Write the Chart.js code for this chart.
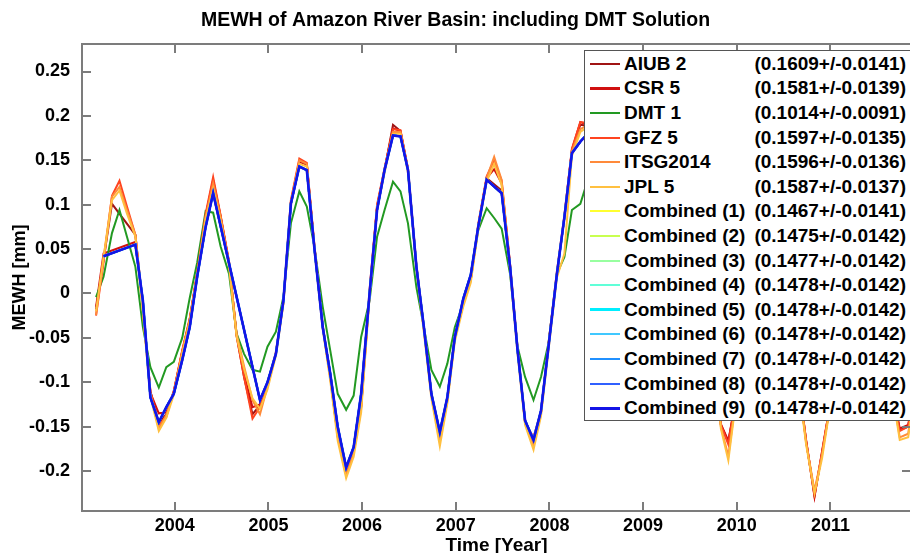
<!DOCTYPE html>
<html>
<head>
<meta charset="utf-8">
<title>MEWH of Amazon River Basin</title>
<script src="https://cdn.jsdelivr.net/npm/chart.js@4.4.1/dist/chart.umd.min.js"></script>
<style>
    html, body {
        margin: 0;
        padding: 0;
        background: #fff;
        width: 910px;
        height: 553px;
        overflow: hidden;
    }
    #wrap {
        position: relative;
        width: 912px;
        height: 562px;
    }
    #legend {
        position: absolute;
        left: 584px;
        top: 50px;
        width: 328px;
        height: 371px;
        box-sizing: border-box;
        border: 1.5px solid #555;
        background: #fff;
        padding-top: 0.5px;
        font-family: Arial, "Liberation Sans", Helvetica, sans-serif;
        font-weight: bold;
        font-size: 19px;
        color: #000;
    }
    .legend-row {
        display: flex;
        align-items: center;
        height: 24.6px;
        white-space: nowrap;
    }
    .legend-line {
        display: inline-block;
        width: 30px;
        margin-left: 5px;
        margin-right: 4px;
    }
    .legend-stat {
        margin-left: auto;
        padding-right: 5px;
    }
</style>
</head>
<body>
<div id="wrap">
    <canvas id="chart" width="912" height="562"></canvas>
    <div id="legend"></div>
</div>
<script>
// monthly epochs, decimal years
const months = [
    2003.16, 2003.24, 2003.33, 2003.41, 2003.49, 2003.58, 2003.66, 2003.74, 2003.83, 2003.91, 2003.99, 2004.08,
    2004.16, 2004.24, 2004.33, 2004.41, 2004.49, 2004.58, 2004.66, 2004.74, 2004.83, 2004.91, 2004.99, 2005.08,
    2005.16, 2005.24, 2005.33, 2005.41, 2005.49, 2005.58, 2005.66, 2005.74, 2005.83, 2005.91, 2005.99, 2006.08,
    2006.16, 2006.24, 2006.33, 2006.41, 2006.49, 2006.58, 2006.66, 2006.74, 2006.83, 2006.91, 2006.99, 2007.08,
    2007.16, 2007.24, 2007.33, 2007.41, 2007.49, 2007.58, 2007.66, 2007.74, 2007.83, 2007.91, 2007.99, 2008.08,
    2008.16, 2008.24, 2008.33, 2008.41, 2008.49, 2008.58, 2008.66, 2008.74, 2008.83, 2008.91, 2008.99, 2009.08,
    2009.16, 2009.24, 2009.33, 2009.41, 2009.49, 2009.58, 2009.66, 2009.74, 2009.83, 2009.91, 2009.99, 2010.08,
    2010.16, 2010.24, 2010.33, 2010.41, 2010.49, 2010.58, 2010.66, 2010.74, 2010.83, 2010.91, 2010.99, 2011.08,
    2011.16, 2011.24, 2011.33, 2011.41, 2011.49, 2011.58, 2011.66, 2011.74, 2011.83, 2011.91,
];

const aiub = [
    -0.018, 0.038, 0.101, null, null, 0.066, -0.014, -0.110, -0.146, -0.136, -0.111, -0.066,
    -0.029, 0.022, 0.087, 0.126, 0.086, 0.034, -0.047, -0.094, -0.136, -0.126, -0.104, -0.067,
    -0.010, 0.102, 0.148, 0.146, 0.053, -0.038, -0.094, -0.161, -0.201, -0.178, -0.128, 0.000,
    0.097, 0.139, 0.190, 0.183, 0.139, 0.030, -0.040, -0.114, -0.163, -0.120, -0.050, -0.012,
    0.015, 0.076, 0.130, null, 0.116, 0.031, -0.064, -0.144, -0.166, -0.134, -0.059, 0.022,
    0.086, 0.161, 0.190, 0.189, 0.149, 0.070, -0.020, -0.090, -0.120, -0.125, -0.100, -0.060,
    0.000, 0.080, 0.150, 0.190, 0.200, 0.160, 0.080, -0.030, -0.148, -0.167, -0.120, -0.060,
    0.000, 0.070, 0.140, 0.180, 0.170, 0.100, -0.100, -0.166, -0.228, -0.180, -0.130, -0.060,
    0.020, 0.100, 0.160, 0.170, 0.120, 0.030, -0.110, -0.154, -0.150, -0.100,
];

const csr = [
    -0.015, 0.045, null, null, null, 0.058, -0.012, -0.112, -0.135, -0.134, -0.110, -0.065,
    -0.030, 0.023, 0.088, 0.128, 0.087, 0.035, -0.046, -0.090, -0.128, -0.125, -0.103, -0.067,
    -0.009, 0.103, 0.149, 0.145, 0.054, -0.037, -0.093, -0.160, -0.200, -0.177, -0.127, 0.002,
    0.098, 0.140, 0.186, 0.183, 0.140, 0.031, -0.039, -0.113, -0.162, -0.119, -0.049, -0.011,
    0.016, 0.076, 0.130, 0.140, 0.124, 0.032, -0.063, -0.146, -0.162, -0.133, -0.058, 0.023,
    0.087, 0.162, 0.193, 0.190, 0.150, 0.071, -0.019, -0.089, -0.119, -0.124, -0.099, -0.059,
    0.001, 0.081, 0.151, 0.191, 0.201, 0.161, 0.081, -0.029, -0.147, -0.166, -0.119, -0.059,
    0.001, 0.071, 0.141, 0.181, 0.171, 0.101, -0.099, -0.165, -0.229, -0.178, -0.129, -0.059,
    0.021, 0.101, 0.161, 0.171, 0.121, 0.031, -0.109, -0.152, -0.148, -0.099,
];

const dmt = [
    -0.004, 0.019, 0.068, 0.094, 0.064, 0.030, -0.038, -0.083, -0.106, -0.083, -0.077, -0.050,
    -0.005, 0.035, 0.093, 0.091, 0.053, 0.022, -0.045, -0.068, -0.086, -0.088, -0.060, -0.043,
    -0.004, 0.079, 0.115, 0.098, 0.053, -0.015, -0.064, -0.113, -0.131, -0.115, -0.049, -0.008,
    0.064, 0.094, 0.126, 0.115, 0.079, 0.007, -0.038, -0.086, -0.105, -0.079, -0.038, -0.011,
    0.019, 0.071, 0.096, 0.085, 0.073, 0.022, -0.060, -0.094, -0.120, -0.094, -0.056, 0.022,
    0.041, 0.094, 0.101, 0.128, 0.110, 0.060,
];

const gfz = [
    -0.025, 0.035, 0.110, 0.127, 0.098, 0.066, -0.016, -0.110, -0.148, -0.139, -0.110, -0.064,
    -0.028, 0.024, 0.090, 0.131, 0.088, 0.036, -0.048, -0.094, -0.141, -0.128, -0.103, -0.066,
    -0.008, 0.105, 0.152, 0.147, 0.056, -0.036, -0.092, -0.160, -0.202, -0.178, -0.126, 0.004,
    0.100, 0.141, 0.185, 0.184, 0.141, 0.032, -0.038, -0.112, -0.163, -0.118, -0.048, -0.010,
    0.017, 0.078, 0.132, 0.150, 0.127, 0.033, -0.062, -0.142, -0.168, -0.132, -0.057, 0.025,
    0.088, 0.163, 0.193, 0.192, 0.152, 0.072, -0.018, -0.088, -0.118, -0.123, -0.098, -0.058,
    0.002, 0.082, 0.152, 0.192, 0.202, 0.162, 0.082, -0.028, -0.148, -0.170, -0.118, -0.058,
    0.002, 0.072, 0.142, 0.182, 0.172, 0.102, -0.098, -0.166, -0.226, -0.180, -0.128, -0.058,
    0.022, 0.102, 0.162, 0.172, 0.122, 0.032, -0.108, -0.155, -0.150, -0.098,
];

const itsg = [
    -0.024, 0.040, 0.109, 0.120, 0.094, 0.066, -0.019, -0.113, -0.152, -0.137, -0.112, -0.066,
    -0.030, 0.022, 0.086, 0.124, 0.086, 0.034, -0.045, -0.082, -0.120, -0.136, -0.105, -0.068,
    -0.010, 0.103, 0.150, 0.146, 0.053, -0.038, -0.094, -0.162, -0.205, -0.180, -0.130, 0.000,
    0.098, 0.139, 0.182, 0.182, 0.139, 0.030, -0.040, -0.115, -0.167, -0.120, -0.050, -0.012,
    0.015, 0.075, 0.130, 0.154, 0.128, 0.030, -0.065, -0.145, -0.172, -0.135, -0.060, 0.022,
    0.085, 0.160, 0.185, 0.190, 0.150, 0.070, -0.020, -0.090, -0.120, -0.125, -0.100, -0.060,
    0.000, 0.080, 0.150, 0.190, 0.200, 0.160, 0.080, -0.030, -0.150, -0.183, -0.120, -0.060,
    0.000, 0.070, 0.140, 0.180, 0.170, 0.100, -0.100, -0.168, -0.222, -0.182, -0.130, -0.060,
    0.020, 0.100, 0.160, 0.170, 0.120, 0.030, -0.110, -0.162, -0.158, -0.100,
];

const jpl = [
    -0.020, 0.040, 0.105, 0.116, 0.090, 0.064, -0.022, -0.116, -0.155, -0.140, -0.114, -0.068,
    -0.032, 0.020, 0.084, 0.118, 0.082, 0.030, -0.048, -0.085, -0.118, -0.130, -0.108, -0.070,
    -0.012, 0.100, 0.146, 0.143, 0.050, -0.040, -0.098, -0.166, -0.208, -0.184, -0.134, -0.004,
    0.095, 0.136, 0.180, 0.180, 0.136, 0.027, -0.044, -0.118, -0.172, -0.124, -0.054, -0.015,
    0.012, 0.072, 0.126, 0.146, 0.122, 0.026, -0.068, -0.148, -0.176, -0.138, -0.064, 0.018,
    0.045, 0.155, 0.182, 0.188, 0.148, 0.068, -0.022, -0.092, -0.122, -0.127, -0.102, -0.062,
    -0.002, 0.078, 0.148, 0.188, 0.198, 0.158, 0.078, -0.032, -0.152, -0.188, -0.122, -0.062,
    -0.002, 0.068, 0.138, 0.178, 0.168, 0.098, -0.102, -0.170, -0.225, -0.186, -0.132, -0.062,
    0.018, 0.098, 0.158, 0.168, 0.118, 0.028, -0.112, -0.165, -0.162, -0.102,
];

// the nine combined solutions overlap to within a line width
const combined = [
    null, 0.042, null, null, null, 0.055, -0.008, -0.117, -0.145, -0.128, -0.113, -0.075,
    -0.038, 0.019, 0.075, 0.113, null, null, null, null, null, -0.120, -0.100, -0.068,
    -0.008, 0.101, 0.143, 0.139, 0.052, -0.038, -0.090, -0.150, -0.196, -0.173, -0.113, 0.000,
    0.094, 0.139, 0.178, 0.177, 0.139, 0.030, -0.038, -0.113, -0.156, -0.117, -0.049, -0.006,
    0.021, 0.075, 0.128, null, 0.113, 0.030, -0.064, -0.143, -0.165, -0.132, -0.060, 0.022,
    0.086, 0.158, 0.171, 0.180, 0.150, 0.080,
];

const seriesNames = [
    'AIUB 2', 'CSR 5', 'DMT 1', 'GFZ 5', 'ITSG2014', 'JPL 5',
    'Combined (1)', 'Combined (2)', 'Combined (3)', 'Combined (4)', 'Combined (5)',
    'Combined (6)', 'Combined (7)', 'Combined (8)', 'Combined (9)',
];
const seriesStats = [
    '(0.1609+/-0.0141)', '(0.1581+/-0.0139)', '(0.1014+/-0.0091)', '(0.1597+/-0.0135)',
    '(0.1596+/-0.0136)', '(0.1587+/-0.0137)', '(0.1467+/-0.0141)', '(0.1475+/-0.0142)',
    '(0.1477+/-0.0142)', '(0.1478+/-0.0142)', '(0.1478+/-0.0142)', '(0.1478+/-0.0142)',
    '(0.1478+/-0.0142)', '(0.1478+/-0.0142)', '(0.1478+/-0.0142)',
];
const seriesValues = [
    aiub, csr, dmt, gfz, itsg, jpl,
    combined, combined, combined, combined, combined, combined, combined, combined, combined,
];

const xTicks = [2004, 2005, 2006, 2007, 2008, 2009, 2010, 2011];
const yTicks = [-0.2, -0.15, -0.1, -0.05, 0, 0.05, 0.1, 0.15, 0.2, 0.25];

// ---- drawing ----

const lineColors = [
    '#a01414', '#d01010', '#229922', '#ff4420', '#ff8a3a', '#ffc040',
    '#ffff30', '#c8ff50', '#98ffa0', '#60ffd8', '#00eeff',
    '#40c8ff', '#2090ff', '#3060ff', '#1414e6',
];
const sampleWidths = [2, 3, 2, 2, 2, 2, 2, 2, 2, 2, 3, 2, 2, 2, 3];
const fontFamily = 'Arial, "Liberation Sans", Helvetica, sans-serif';
const axisColor = '#7c7c7c';

function toPoints(values) {
    const points = [];
    values.forEach((v, i) => {
        if (v !== null) points.push({ x: months[i], y: v });
    });
    return points;
}

// MATLAB style box with inward ticks on all four sides
const axesBox = {
    id: 'axesBox',
    afterDatasetsDraw(chart) {
        const { ctx, chartArea: a, scales } = chart;
        const len = 9;
        ctx.save();
        ctx.strokeStyle = axisColor;
        ctx.lineWidth = 2;
        ctx.beginPath();
        scales.x.ticks.forEach((t) => {
            const px = Math.round(scales.x.getPixelForValue(t.value));
            ctx.moveTo(px, a.bottom);
            ctx.lineTo(px, a.bottom - len);
            ctx.moveTo(px, a.top);
            ctx.lineTo(px, a.top + len);
        });
        scales.y.ticks.forEach((t) => {
            const py = Math.round(scales.y.getPixelForValue(t.value));
            ctx.moveTo(a.left, py);
            ctx.lineTo(a.left + len, py);
            ctx.moveTo(a.right, py);
            ctx.lineTo(a.right - len, py);
        });
        ctx.stroke();
        ctx.strokeRect(a.left, a.top, a.right - a.left, a.bottom - a.top);
        ctx.restore();
    },
};

const datasets = seriesNames.map((name, i) => ({
    label: name,
    data: toPoints(seriesValues[i]),
    borderColor: lineColors[i],
    borderWidth: i === seriesNames.length - 1 ? 2.6 : 2,
    pointRadius: 0,
    tension: 0,
    fill: false,
    order: seriesNames.length - i,
}));

const tickFont = { family: fontFamily, size: 18, weight: 'bold' };

new Chart(document.getElementById('chart'), {
    type: 'line',
    data: { datasets },
    options: {
        responsive: false,
        animation: false,
        devicePixelRatio: 1,
        layout: { padding: { left: 0, right: 1, top: 0, bottom: 0 } },
        plugins: {
            legend: { display: false },
            tooltip: { enabled: false },
            title: {
                display: true,
                text: 'MEWH of Amazon River Basin: including DMT Solution',
                color: '#000',
                font: { family: fontFamily, size: 19.5, weight: 'bold' },
                padding: { top: 9, bottom: 11.6 },
            },
        },
        scales: {
            x: {
                type: 'linear',
                min: 2003.01,
                max: 2011.86,
                afterBuildTicks: (scale) => {
                    scale.ticks = xTicks.map((v) => ({ value: v }));
                },
                afterFit: (scale) => {
                    scale.height = 51;
                },
                grid: { display: false, drawTicks: false },
                border: { display: false },
                ticks: {
                    color: '#000',
                    font: tickFont,
                    padding: 4,
                    autoSkip: false,
                    maxRotation: 0,
                    callback: (v) => String(v),
                },
                title: {
                    display: true,
                    text: 'Time [Year]',
                    color: '#000',
                    font: { family: fontFamily, size: 19, weight: 'bold' },
                    padding: { top: 0, bottom: 4.6 },
                },
            },
            y: {
                type: 'linear',
                min: -0.245,
                max: 0.281,
                afterBuildTicks: (scale) => {
                    scale.ticks = yTicks.map((v) => ({ value: v }));
                },
                afterFit: (scale) => {
                    scale.width = 82;
                },
                grid: { display: false, drawTicks: false },
                border: { display: false },
                ticks: {
                    color: '#000',
                    font: tickFont,
                    padding: 12,
                    callback: (v) => String(v),
                },
                title: {
                    display: true,
                    text: 'MEWH [mm]',
                    color: '#000',
                    font: { family: fontFamily, size: 18, weight: 'bold' },
                    padding: { top: 9, bottom: 0 },
                },
            },
        },
    },
    plugins: [axesBox],
});

// legend box sits over the upper right of the axes, as in the figure
const legendBox = document.getElementById('legend');
seriesNames.forEach((name, i) => {
    const row = document.createElement('div');
    row.className = 'legend-row';

    const line = document.createElement('span');
    line.className = 'legend-line';
    line.style.height = sampleWidths[i] + 'px';
    line.style.background = lineColors[i];

    const label = document.createElement('span');
    label.textContent = name;

    const stat = document.createElement('span');
    stat.className = 'legend-stat';
    stat.textContent = seriesStats[i];

    row.appendChild(line);
    row.appendChild(label);
    row.appendChild(stat);
    legendBox.appendChild(row);
});
</script>
</body>
</html>
